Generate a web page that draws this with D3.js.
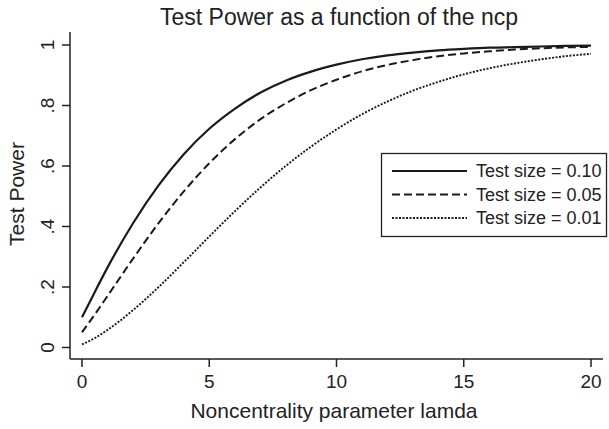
<!DOCTYPE html>
<html>
<head>
<meta charset="utf-8">
<script src="https://cdn.jsdelivr.net/npm/d3@7"></script>
<style>
body { margin: 0; background: #fff; }
text { font-family: "Liberation Sans", Arial, sans-serif; fill: #222; }
</style>
</head>
<body>
<script>
var width = 609;
var height = 429;

// noncentrality parameter values
var lamda = [0, 0.5, 1, 2, 3, 4, 5, 6, 7, 8, 9, 10, 11, 12, 13, 14, 15, 16, 17, 18, 19, 20];

// power
var power10 = [0.100, 0.183, 0.264, 0.410, 0.535, 0.639, 0.723, 0.789, 0.842, 0.882, 0.912, 0.935,
               0.953, 0.966, 0.975, 0.982, 0.987, 0.991, 0.993, 0.995, 0.997, 0.998];
var power05 = [0.050, 0.109, 0.170, 0.293, 0.410, 0.516, 0.609, 0.688, 0.754, 0.807, 0.851, 0.885,
               0.913, 0.934, 0.950, 0.963, 0.972, 0.979, 0.985, 0.989, 0.992, 0.994];
var power01 = [0.010, 0.031, 0.058, 0.123, 0.199, 0.282, 0.367, 0.450, 0.528, 0.600, 0.664, 0.721,
               0.771, 0.813, 0.849, 0.878, 0.903, 0.923, 0.939, 0.952, 0.963, 0.971];

var seriesNames = ["Test size = 0.10", "Test size = 0.05", "Test size = 0.01"];
var xTicks = [0, 5, 10, 15, 20];
var yTicks = [0, 0.2, 0.4, 0.6, 0.8, 1];
var yTickLabels = ["0", ".2", ".4", ".6", ".8", "1"];

var dashes = [null, "8,4", "2,1.5"];
var widths = [2.2, 2, 1.9];

var svg = d3.select("body")
    .append("svg")
    .attr("width", width)
    .attr("height", height);

var x = d3.scaleLinear().domain([0, 20]).range([82, 591]);
var y = d3.scaleLinear().domain([0, 1]).range([347.5, 45]);

// axis lines
svg.append("line")
    .attr("x1", 70).attr("x2", 70)
    .attr("y1", 32).attr("y2", 359)
    .attr("stroke", "#222").attr("stroke-width", 1.5);
svg.append("line")
    .attr("x1", 70).attr("x2", 603)
    .attr("y1", 359).attr("y2", 359)
    .attr("stroke", "#222").attr("stroke-width", 1.5);

// y ticks
var yt = svg.append("g").selectAll("g")
    .data(yTicks)
    .enter().append("g")
    .attr("transform", function(d) { return "translate(70," + y(d) + ")"; });
yt.append("line")
    .attr("x1", -8).attr("x2", 0)
    .attr("stroke", "#222").attr("stroke-width", 1.5);
yt.append("text")
    .attr("transform", "translate(-16,0) rotate(-90)")
    .attr("text-anchor", "middle")
    .style("font-size", "19px")
    .text(function(d, i) { return yTickLabels[i]; });

// x ticks
var xt = svg.append("g").selectAll("g")
    .data(xTicks)
    .enter().append("g")
    .attr("transform", function(d) { return "translate(" + x(d) + ",359)"; });
xt.append("line")
    .attr("y1", 0).attr("y2", 8)
    .attr("stroke", "#222").attr("stroke-width", 1.5);
xt.append("text")
    .attr("y", 29)
    .attr("text-anchor", "middle")
    .style("font-size", "19px")
    .text(function(d) { return d; });

// titles
svg.append("text")
    .attr("x", 339).attr("y", 25)
    .attr("text-anchor", "middle")
    .style("font-size", "23px")
    .text("Test Power as a function of the ncp");

svg.append("text")
    .attr("x", 334).attr("y", 418)
    .attr("text-anchor", "middle")
    .style("font-size", "21px")
    .text("Noncentrality parameter lamda");

svg.append("text")
    .attr("transform", "translate(24,194) rotate(-90)")
    .attr("text-anchor", "middle")
    .style("font-size", "21px")
    .text("Test Power");

// curves
var series = [power10, power05, power01];
var line = d3.line()
    .x(function(d) { return x(d[0]); })
    .y(function(d) { return y(d[1]); })
    .curve(d3.curveMonotoneX);

svg.append("g")
    .selectAll("path")
    .data(series)
    .enter().append("path")
    .attr("d", function(s) { return line(lamda.map(function(l, i) { return [l, s[i]]; })); })
    .attr("fill", "none")
    .attr("stroke", "#1a1a1a")
    .attr("stroke-width", function(d, i) { return widths[i]; })
    .attr("stroke-dasharray", function(d, i) { return dashes[i]; });

// legend
var legend = svg.append("g");
legend.append("rect")
    .attr("x", 381.5).attr("y", 153.5)
    .attr("width", 225).attr("height", 83)
    .attr("fill", "#fff")
    .attr("stroke", "#222").attr("stroke-width", 1.3);

var rows = legend.selectAll("g")
    .data(seriesNames)
    .enter().append("g")
    .attr("transform", function(d, i) { return "translate(0," + (171 + i * 23.5) + ")"; });
rows.append("line")
    .attr("x1", 392).attr("x2", 467)
    .attr("stroke", "#1a1a1a")
    .attr("stroke-width", function(d, i) { return widths[i]; })
    .attr("stroke-dasharray", function(d, i) { return dashes[i]; });
rows.append("text")
    .attr("x", 476).attr("y", 6)
    .style("font-size", "18px")
    .text(function(d) { return d; });
</script>
</body>
</html>
